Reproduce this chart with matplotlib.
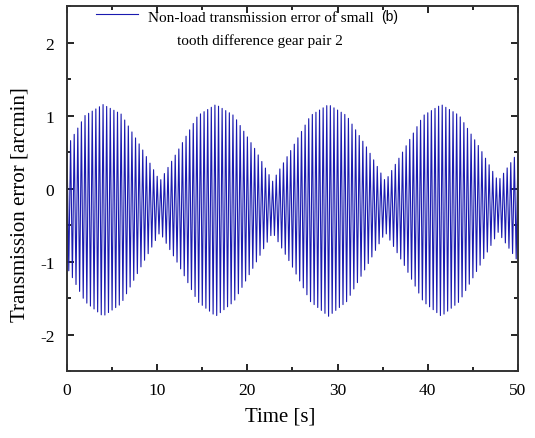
import numpy as np
import matplotlib
matplotlib.use("Agg")
import matplotlib.pyplot as plt
from matplotlib.legend_handler import HandlerLine2D
from matplotlib.ticker import MultipleLocator

# envelope of the transmission error (time [s], arcmin)
env_t = [0, 2, 4, 6, 8.3, 10.3, 12.3, 14.5, 16.5, 18.5, 20.8, 22.8, 24.8,
         27, 29, 31, 33.3, 35.3, 37.3, 39.5, 41.5, 43.5, 45.8, 47.8, 50]
env_upper = [0.57, 1.00, 1.15, 1.02, 0.55, 0.10, 0.52, 1.00, 1.15, 1.00, 0.55, 0.10, 0.52,
             1.00, 1.15, 1.00, 0.55, 0.10, 0.52, 1.00, 1.15, 1.00, 0.55, 0.10, 0.50]
env_lower = [-1.08, -1.55, -1.75, -1.58, -1.05, -0.60, -1.03, -1.55, -1.75, -1.55, -1.05, -0.60, -1.03,
             -1.55, -1.75, -1.55, -1.05, -0.60, -1.03, -1.55, -1.75, -1.55, -1.05, -0.60, -1.00]
mesh_period = 0.40  # one tooth-mesh cycle, from the stroke spacing [s]

xticks = [0, 10, 20, 30, 40, 50]
yticks = [-2, -1, 0, 1, 2]

# peaks and troughs alternate along the envelope
t_ext = np.arange(0, env_t[-1] + 1e-9, mesh_period / 2)
up = np.interp(t_ext, env_t, env_upper)
lo = np.interp(t_ext, env_t, env_lower)
te = np.where(np.arange(len(t_ext)) % 2 == 0, up, lo)

plt.rcParams['font.family'] = ['Liberation Serif', 'DejaVu Serif']
plt.rcParams['axes.unicode_minus'] = False

LSPACE = 1.85


class FirstLineHandler(HandlerLine2D):
    # keep the legend line level with the first text line
    def create_artists(self, legend, orig_handle, xdescent, ydescent, width, height, fontsize, trans):
        arts = super().create_artists(legend, orig_handle, xdescent, ydescent, width, height, fontsize, trans)
        for a in arts:
            a.set_ydata(np.asarray(a.get_ydata()) + 0.5 * LSPACE * fontsize)
        return arts


fig = plt.figure(figsize=(5.35, 4.39), dpi=100)
ax = fig.add_axes([0.1252, 0.1526, 0.8430, 0.8314])

ln, = ax.plot(t_ext, te, color='#1a1ab0', lw=0.8,
              label='Non-load transmission error of small\ntooth difference gear pair 2')

ax.set_xlim(0, 50)
ax.set_ylim(-2.5, 2.5)
ax.set_xticks(xticks)
ax.set_yticks(yticks)
ax.xaxis.set_minor_locator(MultipleLocator(5))
ax.yaxis.set_minor_locator(MultipleLocator(0.5))
ax.tick_params(which='both', direction='in', top=True, right=True, width=1.2, labelsize=12.5)
ax.tick_params(which='major', length=5)
ax.tick_params(which='minor', length=3)
ax.tick_params(axis='x', pad=8)
ax.tick_params(axis='y', pad=9)
for s in ax.spines.values():
    s.set_linewidth(1.4)
    s.set_color('#333333')

ax.set_xlabel('Time [s]', fontsize=15)
ax.set_ylabel('Transmission error [arcmin]', fontsize=15)
ax.xaxis.set_label_coords(0.472, -0.098)
ax.yaxis.set_label_coords(-0.082, 0.458)

leg = ax.legend(handles=[ln], loc='upper left', bbox_to_anchor=(0.033, 1.025), frameon=False,
                fontsize=11, handlelength=2.8, handletextpad=0.6,
                handler_map={ln: FirstLineHandler()})
leg.get_texts()[0].set_multialignment('center')
leg.get_texts()[0].set_linespacing(LSPACE)

fig.text(0.729, 0.961, '(b)', fontsize=10, family='Liberation Sans', ha='center', va='center')

fig.savefig('out.png', dpi=100)
